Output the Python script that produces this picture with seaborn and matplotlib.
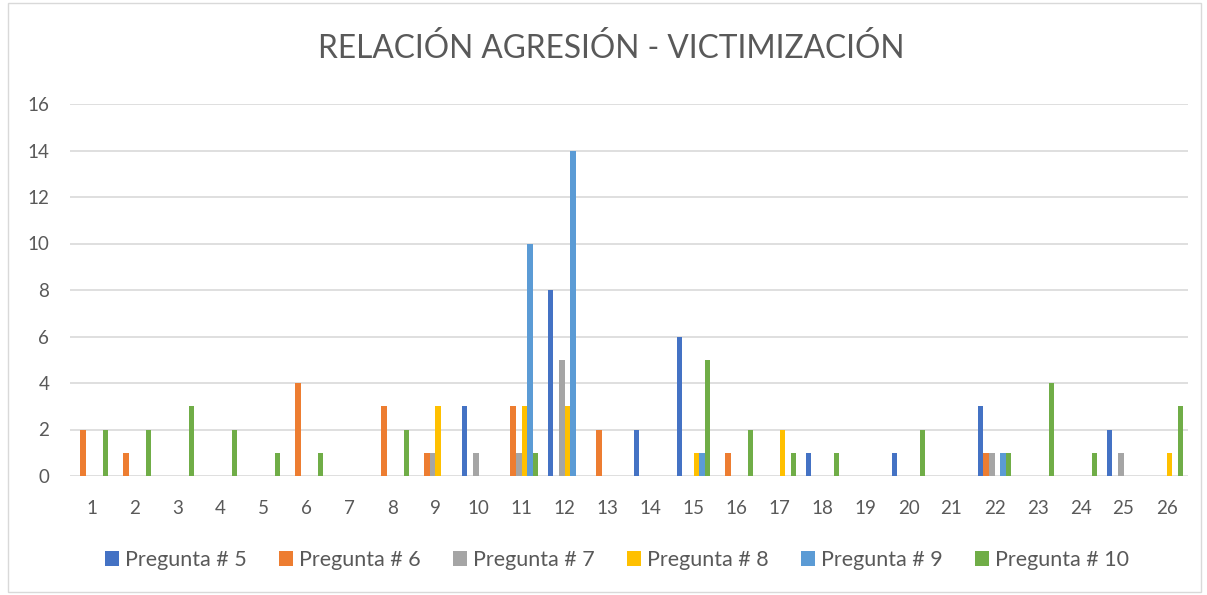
import numpy as np
import pandas as pd
import seaborn as sns
import matplotlib.pyplot as plt
from matplotlib.patches import Rectangle

categories = [str(i) for i in range(1, 27)]
series_names = ["Pregunta # 5", "Pregunta # 6", "Pregunta # 7",
                "Pregunta # 8", "Pregunta # 9", "Pregunta # 10"]
#          1  2  3  4  5  6  7  8  9 10 11 12 13 14 15 16 17 18 19 20 21 22 23 24 25 26
p5  = [0, 0, 0, 0, 0, 0, 0, 0, 0, 3, 0, 8, 0, 2, 6, 0, 0, 1, 0, 1, 0, 3, 0, 0, 2, 0]
p6  = [2, 1, 0, 0, 0, 4, 0, 3, 1, 0, 3, 0, 2, 0, 0, 1, 0, 0, 0, 0, 0, 1, 0, 0, 0, 0]
p7  = [0, 0, 0, 0, 0, 0, 0, 0, 1, 1, 1, 5, 0, 0, 0, 0, 0, 0, 0, 0, 0, 1, 0, 0, 1, 0]
p8  = [0, 0, 0, 0, 0, 0, 0, 0, 3, 0, 3, 3, 0, 0, 1, 0, 2, 0, 0, 0, 0, 0, 0, 0, 0, 1]
p9  = [0, 0, 0, 0, 0, 0, 0, 0, 0, 0, 10, 14, 0, 0, 1, 0, 0, 0, 0, 0, 0, 1, 0, 0, 0, 0]
p10 = [2, 2, 3, 2, 1, 1, 0, 2, 0, 0, 1, 0, 0, 0, 5, 2, 1, 1, 0, 2, 0, 1, 4, 1, 0, 3]
y_ticks = [0, 2, 4, 6, 8, 10, 12, 14, 16]
title = "RELACIÓN AGRESIÓN - VICTIMIZACIÓN"

colors = ["#4472C4", "#ED7D31", "#A5A5A5", "#FFC000", "#5B9BD5", "#70AD47"]

rows = []
for name, vals in zip(series_names, [p5, p6, p7, p8, p9, p10]):
    for c, v in zip(categories, vals):
        rows.append({"cat": c, "serie": name, "valor": v})
df = pd.DataFrame(rows)

sns.set_style("white")
plt.rcParams["font.family"] = ["Lato", "DejaVu Sans"]

fig = plt.figure(figsize=(12.07, 5.95), dpi=100)
ax = fig.add_axes([70/1207, 1 - 476/595, (1188-70)/1207, (476-104)/595])

sns.barplot(data=df, x="cat", y="valor", hue="serie", order=categories,
            hue_order=series_names, palette=colors, width=0.78,
            saturation=1, linewidth=0, ax=ax, legend=True)

ax.set_ylim(0, 16)
ax.set_xlim(-0.5, len(categories) - 0.5)
ax.set_yticks(y_ticks)
ax.yaxis.grid(True, color="#D9D9D9", linewidth=1.2)
ax.set_axisbelow(True)
for s in ax.spines.values():
    s.set_visible(False)
ax.set_xlabel("")
ax.set_ylabel("")
ax.tick_params(axis="both", length=0, labelsize=13.5, colors="#595959")
ax.tick_params(axis="x", pad=17)
ax.tick_params(axis="y", pad=15)

handles, labels = ax.get_legend_handles_labels()
ax.legend_.remove()
fig.legend(handles, labels, loc="center", bbox_to_anchor=(617/1207, 1 - 560/595),
           ncol=6, frameon=False, fontsize=15.5, handlelength=0.65, handleheight=0.7,
           handletextpad=0.28, columnspacing=1.5, labelcolor="#595959")

fig.text(611/1207, 1 - 48/595, title, ha="center", va="center",
         fontsize=22.8, color="#595959")

fig.patches.append(Rectangle((8/1207, 3/595), 1193/1207, 589/595,
                             transform=fig.transFigure, fill=False,
                             edgecolor="#D9D9D9", linewidth=1))

fig.savefig("out.png", dpi=100)
